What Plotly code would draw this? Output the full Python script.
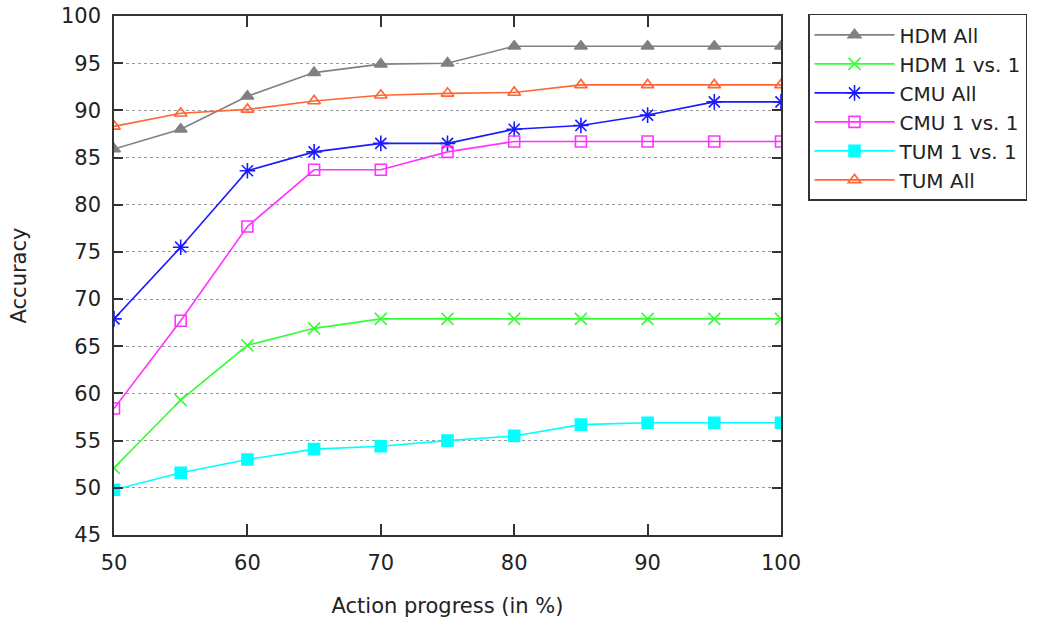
import plotly.graph_objects as go

progress = [50, 55, 60, 65, 70, 75, 80, 85, 90, 95, 100]

hdm_all = [85.9, 88.0, 91.5, 94.0, 94.9, 95.0, 96.8, 96.8, 96.8, 96.8, 96.8]
hdm_1v1 = [52.1, 59.3, 65.1, 66.9, 67.9, 67.9, 67.9, 67.9, 67.9, 67.9, 67.9]
cmu_all = [67.9, 75.5, 83.6, 85.6, 86.5, 86.5, 88.0, 88.4, 89.5, 90.9, 90.9]
cmu_1v1 = [58.4, 67.7, 77.7, 83.7, 83.7, 85.6, 86.7, 86.7, 86.7, 86.7, 86.7]
tum_1v1 = [49.8, 51.6, 53.0, 54.1, 54.4, 55.0, 55.5, 56.7, 56.9, 56.9, 56.9]
tum_all = [88.3, 89.7, 90.1, 91.0, 91.6, 91.8, 91.9, 92.7, 92.7, 92.7, 92.7]

series = [
    ("HDM All", hdm_all, "#808080", "triangle-up", 11),
    ("HDM 1 vs. 1", hdm_1v1, "#33ff33", "x-thin-open", 12),
    ("CMU All", cmu_all, "#1a1aff", "asterisk-open", 13),
    ("CMU 1 vs. 1", cmu_1v1, "#ff33ff", "square-open", 11),
    ("TUM 1 vs. 1", tum_1v1, "#00ffff", "square", 11),
    ("TUM All", tum_all, "#ff6633", "triangle-up-open", 11),
]

FONT = "DejaVu Sans"
FS = 21

fig = go.Figure()
for name, vals, color, sym, size in series:
    fig.add_trace(go.Scatter(
        x=progress, y=vals, name=name, mode="lines+markers",
        line=dict(color=color, width=1.6),
        marker=dict(symbol=sym, size=size, color=color,
                    line=dict(color=color, width=1.6)),
    ))

fig.update_layout(
    width=1039, height=619,
    margin=dict(l=114, r=258, t=16, b=84, autoexpand=False),
    plot_bgcolor="white", paper_bgcolor="white",
    font=dict(family=FONT, size=FS, color="#222222"),
    showlegend=True,
    legend=dict(
        x=1.0405, y=1.004, xanchor="left", yanchor="top",
        bordercolor="#333333", borderwidth=1.5,
        font=dict(family=FONT, size=20, color="#222222"),
        bgcolor="white", tracegroupgap=0, itemwidth=80,
    ),
)
fig.update_xaxes(
    range=[50, 100], tickvals=[50, 60, 70, 80, 90, 100],
    title=dict(text="Action progress (in %)", font=dict(size=FS), standoff=24),
    showline=True, linecolor="#333333", linewidth=1.5, mirror="ticks",
    ticks="inside", ticklen=11, tickwidth=1.5, tickcolor="#333333",
    showgrid=False, zeroline=False, ticklabelstandoff=8,
    tickfont=dict(size=FS), automargin=False,
)
fig.update_yaxes(
    range=[45, 100], dtick=5,
    title=dict(text="Accuracy", font=dict(size=FS), standoff=29),
    showline=True, linecolor="#333333", linewidth=1.5, mirror="ticks",
    ticks="inside", ticklen=9, tickwidth=1.5, tickcolor="#333333",
    showgrid=True, gridcolor="#999999", griddash="dot", gridwidth=1.2,
    zeroline=False, ticklabelstandoff=7,
    tickfont=dict(size=FS), automargin=False,
)

fig.write_html("out.html", config={"displayModeBar": False},
               post_script="document.body.style.margin='0';")
